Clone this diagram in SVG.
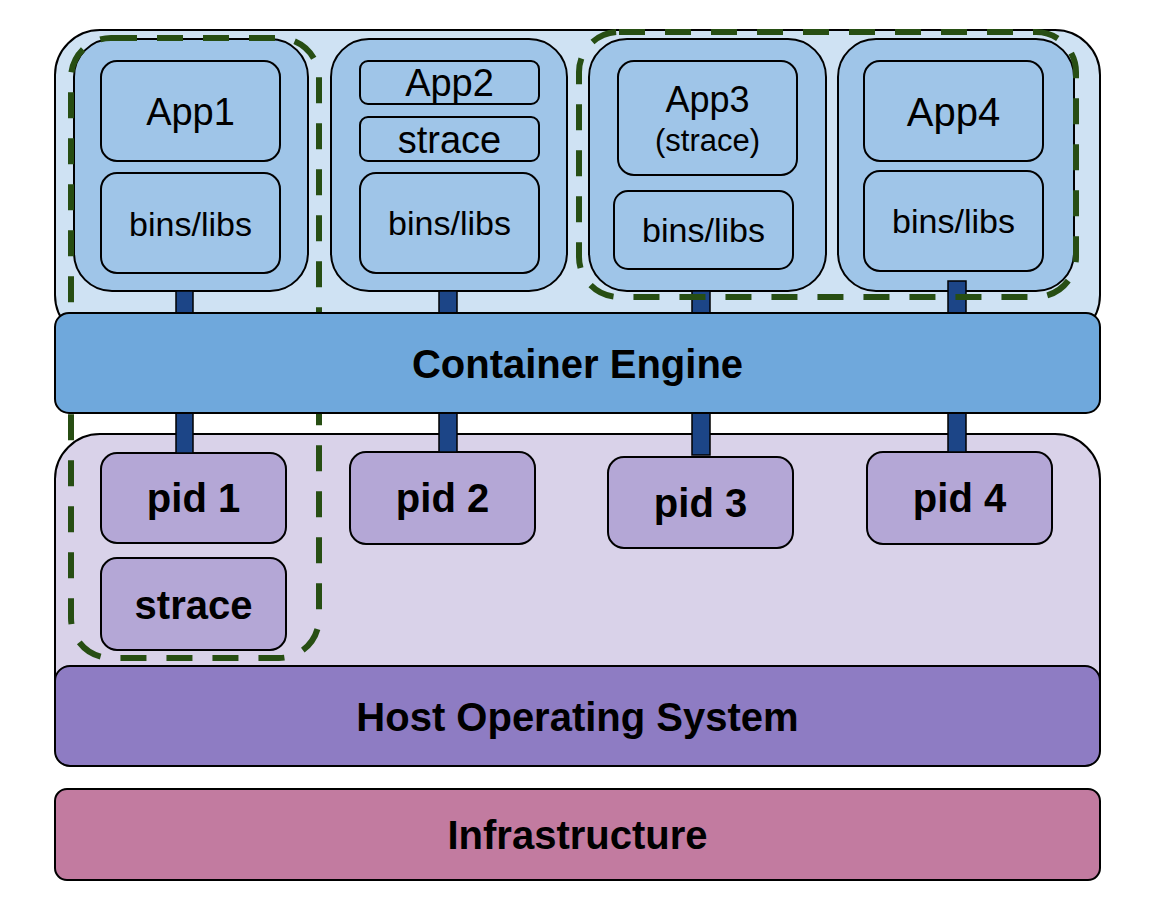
<svg xmlns="http://www.w3.org/2000/svg" width="1156" height="901" viewBox="0 0 1156 901">
<style>
  .bg { stroke: #000; stroke-width: 2; }
  .top { fill: #cfe2f3; }
  .cont { fill: #9fc5e8; stroke: #000; stroke-width: 2; }
  .inner { fill: #9fc5e8; stroke: #000; stroke-width: 2; }
  .low { fill: #d9d2e9; }
  .pid { fill: #b4a7d6; stroke: #000; stroke-width: 2; }
  .eng { fill: #6fa8dc; stroke: #000; stroke-width: 2; }
  .host { fill: #8e7cc3; stroke: #000; stroke-width: 2; }
  .infra { fill: #c27ba0; stroke: #000; stroke-width: 2; }
  .conn { fill: #1c4587; stroke: #000; stroke-width: 1.5; }
  .dash { fill: none; stroke: #274e13; stroke-width: 6; stroke-dasharray: 26 20; }
  text { font-family: "Liberation Sans", Arial, sans-serif; fill: #000; text-anchor: middle; }
  .b { font-weight: bold; font-size: 40px; }
  .app { font-size: 38px; }
  .bl { font-size: 34px; }
</style>
<rect width="1156" height="901" fill="#fff"/>
<g id="container-host">
  <rect class="bg top" x="55" y="30" width="1045" height="310" rx="45"/>
</g>
<g id="host-userspace">
  <rect class="bg low" x="55" y="434" width="1045" height="320" rx="45"/>
</g>
<g id="container1">
  <rect class="cont" x="74" y="39" width="234" height="252" rx="38"/>
  <rect class="inner" x="101" y="61" width="179" height="100" rx="16"/>
  <text class="app" x="190.5" y="125">App1</text>
  <rect class="inner" x="101" y="173" width="179" height="100" rx="16"/>
  <text class="bl" x="190.5" y="236">bins/libs</text>
</g>
<g id="container2">
  <rect class="cont" x="331" y="39" width="236" height="252" rx="38"/>
  <rect class="inner" x="360" y="61" width="179" height="43" rx="8"/>
  <text class="app" x="449.5" y="96">App2</text>
  <rect class="inner" x="360" y="117" width="179" height="44" rx="8"/>
  <text class="app" x="449.5" y="153">strace</text>
  <rect class="inner" x="360" y="173" width="179" height="100" rx="16"/>
  <text class="bl" x="449.5" y="235">bins/libs</text>
</g>
<g id="container3">
  <rect class="cont" x="589" y="39" width="237" height="252" rx="38"/>
  <rect class="inner" x="618" y="61" width="179" height="114" rx="16"/>
  <text x="707.5" y="112" style="font-size:36px">App3</text>
  <text x="707.5" y="151" style="font-size:31px">(strace)</text>
  <rect class="inner" x="614" y="191" width="179" height="78" rx="14"/>
  <text class="bl" x="703.5" y="242">bins/libs</text>
</g>
<g id="container4">
  <rect class="cont" x="838" y="39" width="236" height="252" rx="38"/>
  <rect class="inner" x="864" y="61" width="179" height="100" rx="16"/>
  <text x="953.5" y="126" style="font-size:40px">App4</text>
  <rect class="inner" x="864" y="171" width="179" height="100" rx="16"/>
  <text class="bl" x="953.5" y="233">bins/libs</text>
</g>
<g id="pid1">
  <rect class="pid" x="101" y="453" width="185" height="90" rx="16"/>
  <text class="b" x="193.5" y="512">pid 1</text>
</g>
<g id="strace-host">
  <rect class="pid" x="101" y="558" width="185" height="92" rx="16"/>
  <text class="b" x="193.5" y="619">strace</text>
</g>
<g id="pid2">
  <rect class="pid" x="350" y="452" width="185" height="92" rx="16"/>
  <text class="b" x="442.5" y="512">pid 2</text>
</g>
<g id="pid3">
  <rect class="pid" x="608" y="457" width="185" height="91" rx="16"/>
  <text class="b" x="700.5" y="517">pid 3</text>
</g>
<g id="pid4">
  <rect class="pid" x="867" y="452" width="185" height="92" rx="16"/>
  <text class="b" x="959.5" y="512">pid 4</text>
</g>
<g id="connectors">
  <rect class="conn" x="176" y="291" width="17" height="162"/>
  <rect class="conn" x="439" y="291" width="18" height="161"/>
  <rect class="conn" x="692" y="291" width="18" height="164"/>
  <rect class="conn" x="948" y="281" width="18" height="171"/>
</g>
<g id="strace-scope-host">
  <rect class="dash" x="71" y="38" width="248" height="620" rx="40"/>
</g>
<g id="strace-scope-containers">
  <rect class="dash" x="579" y="32" width="497" height="265" rx="40"/>
</g>
<g id="container-engine">
  <rect class="eng" x="55" y="313" width="1045" height="100" rx="14"/>
  <text class="b" x="577.5" y="378">Container Engine</text>
</g>
<g id="host-os">
  <rect class="host" x="55" y="666" width="1045" height="100" rx="15"/>
  <text class="b" x="577.5" y="731">Host Operating System</text>
</g>
<g id="infrastructure">
  <rect class="infra" x="55" y="789" width="1045" height="91" rx="12"/>
  <text class="b" x="577.5" y="849">Infrastructure</text>
</g>
</svg>
